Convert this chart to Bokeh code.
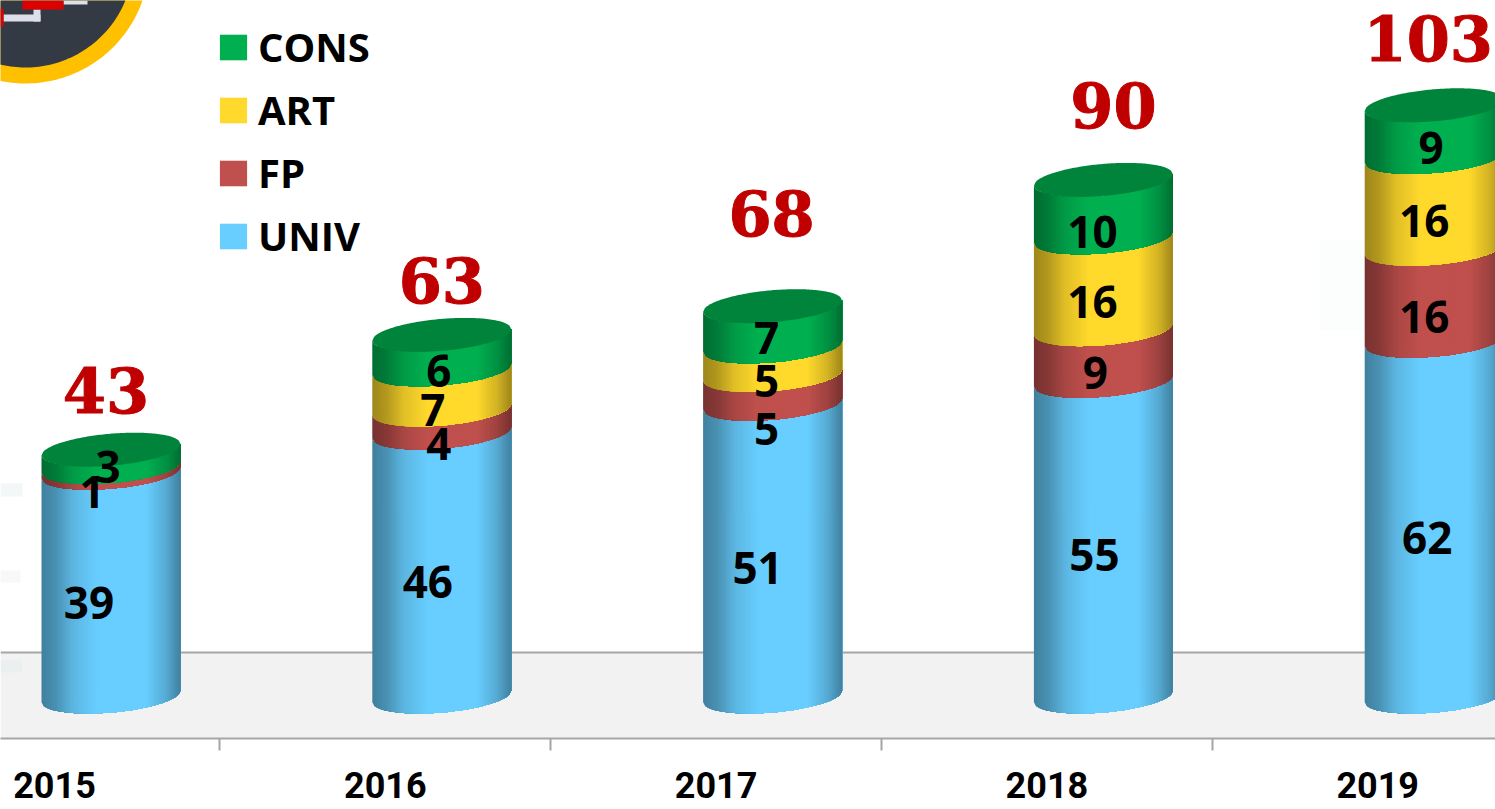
import numpy as np
from bokeh.plotting import figure
from bokeh.models import (Range1d, LinearAxis, FixedTicker, Legend, LegendItem, ColumnDataSource)
from bokeh.core.properties import value
from bokeh.embed import file_html
from bokeh.resources import INLINE

# ---- data
years = ["2015", "2016", "2017", "2018", "2019"]
univ = [39, 46, 51, 55, 62]
fp = [1, 4, 5, 9, 16]
art = [0, 7, 5, 16, 16]
cons = [3, 6, 7, 10, 9]
totals = [43, 63, 68, 90, 103]
series_names = ["UNIV", "FP", "ART", "CONS"]
series_values = [univ, fp, art, cons]

# ---- styles / layout
series_colors = [(0x68, 0xCE, 0xFF), (0xC0, 0x50, 0x4D), (0xFF, 0xD9, 0x2B), (0x00, 0xB0, 0x50)]
top_color = "#00843C"
GRAY = "#A6A6A6"
label_dx = [[-22, -19, 0, -3], [-14, -3, -9, -3], [-15, -6, -6, -6], [-9, -8, -11, -11], [-7, -10, -10, -3]]
label_dy = [[18, 22, 0, 9], [18, 23, 21, 19], [18, 40, 20, 12], [16, 18, 19, 23], [19, 22, 18, 17]]
total_dx = [-5, 0, -1, 10, -6]
total_dy = [-59, -54, -93, -74, -67]

PX_PER_UNIT = 5.74      # vertical pixels per value unit
BASE_PX = 696           # page row of value 0
CAT0_PX = 54            # column of the first category
CAT_PX = 330.8          # category spacing
BAR_SHIFT = 56.5 / CAT_PX  # bars sit right of their labels
HALF_W = 69.5 / CAT_PX
TILT = 5.75 / PX_PER_UNIT
BULGE = 16.0 / PX_PER_UNIT
W, H, AXIS_PX = 1495, 809, 738


def X(px):
    return (np.asarray(px, dtype=float) - CAT0_PX) / CAT_PX


def Y(py):
    return (BASE_PX - np.asarray(py, dtype=float)) / PX_PER_UNIT


p = figure(width=W, height=H, output_backend="svg", toolbar_location=None,
           x_range=Range1d(float(X(0)), float(X(W))),
           y_range=Range1d(float(Y(AXIS_PX)), float(Y(0))),
           x_axis_location=None, y_axis_location=None,
           min_border_left=0, min_border_right=0, min_border_top=0, min_border_bottom=H - AXIS_PX)
p.outline_line_color = None
p.grid.visible = False
p.background_fill_color = "white"

# floor behind the bars
p.quad(left=[float(X(0))], right=[float(X(W))], bottom=[float(Y(AXIS_PX))], top=[float(Y(652))],
       fill_color="#F2F2F2", line_color=None)
p.line([float(X(0)), float(X(W))], [float(Y(652))] * 2, line_color=GRAY, line_width=2)

# faint background smudges
for l, r, t, b, c in [(0, 22, 483, 496, "#F4F7F8"), (0, 20, 570, 582, "#F6F8F9"), (0, 22, 660, 672, "#ECEFF0"),
                      (1320, 1365, 240, 330, "#FCFDFD")]:
    p.quad(left=[float(X(l))], right=[float(X(r))], top=[float(Y(t))], bottom=[float(Y(b))],
           fill_color=c, line_color=None)

# logo corner
th = np.linspace(0, 2 * np.pi, 240)
for rad, col in [(124, "#FFC000"), (108, "#333A44")]:
    p.patch(X(25 + rad * np.cos(th)), Y(-41 + rad * np.sin(th)), fill_color=col, line_color=None)
for l, r, t, b, c in [(63, 87, 0, 4, "#DDE0EA"), (3, 40, 14, 21, "#DDE0EA"), (33, 40, 9, 21, "#DDE0EA"),
                      (22, 63, 0, 9, "#DD0000"), (0, 3, 8, 26, "#DD0000")]:
    p.quad(left=[float(X(l))], right=[float(X(r))], top=[float(Y(t))], bottom=[float(Y(b))],
           fill_color=c, line_color=None)

# cylinders: each band is a fan of thin shaded strips, each overlapping the next to hide seams
N = 70
edges = np.linspace(-1, 1, N + 1)


def lower(t):
    return TILT * t - BULGE * np.sqrt(np.clip(1 - t * t, 0, 1))


def upper(t):
    return TILT * t + BULGE * np.sqrt(np.clip(1 - t * t, 0, 1))


def shade(t):
    return np.interp(t, [-1, -0.8, -0.55, -0.2, 0.5, 0.8, 1], [0.62, 0.7, 0.88, 1, 1, 0.82, 0.62])


for s, (vals, base_col) in enumerate(zip(series_values, series_colors)):
    xs, ys, cols = [], [], []
    for i in range(len(years)):
        if vals[i] == 0:
            continue
        start = sum(series_values[k][i] for k in range(s))
        stop = start + vals[i]
        cx = i + BAR_SHIFT
        for j in range(N):
            tt = np.linspace(edges[j], 1, N - j + 1)   # from this strip to the right end
            xx = cx + tt * HALF_W
            xs.append(list(xx) + list(xx[::-1]))
            ys.append(list(start + lower(tt)) + list((stop + lower(tt))[::-1]))
            f = float(shade((edges[j] + edges[j + 1]) / 2))
            cols.append("#%02x%02x%02x" % tuple(int(round(c * f)) for c in base_col))
    p.patches(xs, ys, fill_color=cols, line_color=None)

# top caps
for i, tot in enumerate(totals):
    t = np.linspace(-1, 1, 80)
    cx = i + BAR_SHIFT
    ex = np.concatenate([cx + t * HALF_W, cx + t[::-1] * HALF_W])
    ey = np.concatenate([tot + lower(t), tot + upper(t[::-1])])
    p.patch(ex, ey, fill_color=top_color, line_color=None)

# segment labels
lx, ly, lt, ldx, ldy = [], [], [], [], []
for i in range(len(years)):
    cum = 0
    for s, vals in enumerate(series_values):
        v = vals[i]
        if v:
            lx.append(i + BAR_SHIFT)
            ly.append(cum + v / 2)
            lt.append(str(v))
            ldx.append(label_dx[i][s])
            ldy.append(label_dy[i][s])
        cum += v
p.text(x="x", y="y", text="t", x_offset="dx", y_offset="dy",
       source=ColumnDataSource(dict(x=lx, y=ly, t=lt, dx=ldx, dy=ldy)),
       text_font=value("Open Sans"), text_font_style="bold", text_font_size="44px", text_color="black",
       text_align="center", text_baseline="middle")

# totals
p.text(x="x", y="y", text="t", x_offset="dx", y_offset="dy",
       source=ColumnDataSource(dict(x=[i + BAR_SHIFT for i in range(len(years))], y=totals,
                                    t=[str(v) for v in totals], dx=total_dx, dy=total_dy)),
       text_font=value("DejaVu Serif"), text_font_style="bold", text_font_size="62px", text_color="#C00000",
       text_outline_color="#C00000",
       text_align="center", text_baseline="middle")

# axis
axis = LinearAxis(ticker=FixedTicker(ticks=list(range(len(years))),
                                     minor_ticks=[i + 0.5 for i in range(len(years) - 1)]))
axis.major_label_overrides = {i: y for i, y in enumerate(years)}
axis.axis_line_color = GRAY
axis.axis_line_width = 2
axis.major_tick_line_color = None
axis.major_tick_in = 0
axis.major_tick_out = 0
axis.minor_tick_line_color = GRAY
axis.minor_tick_line_width = 2
axis.minor_tick_in = 0
axis.minor_tick_out = 12
axis.major_label_text_font = "Roboto"
axis.major_label_text_font_style = "bold"
axis.major_label_text_font_size = "36px"
axis.major_label_text_color = "black"
axis.major_label_standoff = 21
p.add_layout(axis, "below")

# legend
items = []
for name, col in zip(series_names, series_colors):
    r = p.quad(left=[np.nan], right=[np.nan], top=[np.nan], bottom=[np.nan],
               fill_color="#%02x%02x%02x" % col, line_color=None)
    items.append(LegendItem(label=name, renderers=[r]))
legend = Legend(items=items[::-1], location=(216, 475), orientation="vertical",
                glyph_width=34, glyph_height=32, label_standoff=8, spacing=8, margin=0, padding=0,
                border_line_color=None, background_fill_alpha=0,
                label_text_font="Open Sans", label_text_font_style="bold", label_text_font_size="40px",
                label_text_color="black", label_height=26)
p.add_layout(legend, "center")

open("out.html", "w").write(file_html(p, INLINE))
